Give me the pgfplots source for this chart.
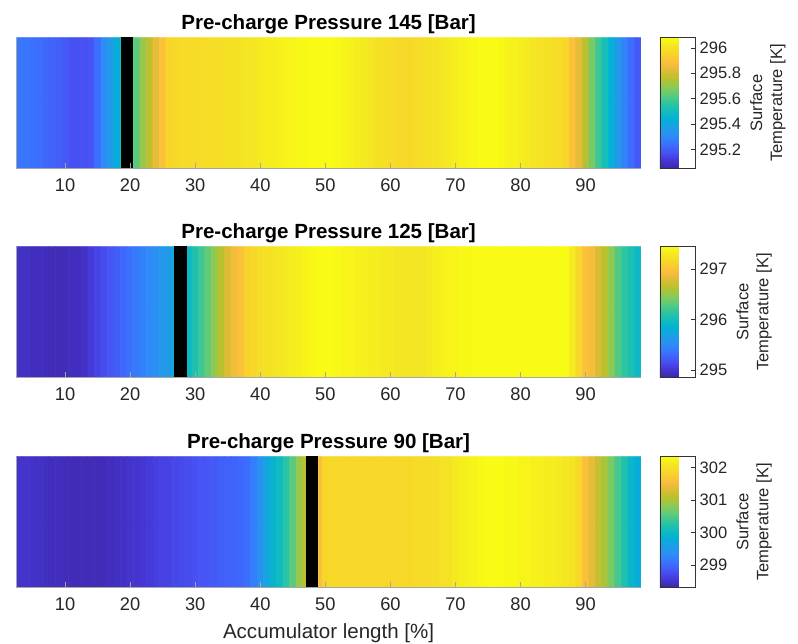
\documentclass[border=0pt]{standalone}
\usepackage{fontspec}
\setmainfont{Liberation Sans}
\usepackage{pgfplots}
\pgfplotsset{compat=1.18}
\usepackage{pgfplotstable}
\usepgfplotslibrary{patchplots}

\pgfplotstableread{
x p1 p2 p3
3 295.256 294.963 298.521
4 295.256 294.963 298.521
5 295.246 294.937 298.500
6 295.235 294.937 298.480
7 295.225 294.937 298.460
8 295.215 294.912 298.440
9 295.205 294.912 298.440
10 295.194 294.912 298.420
11 295.174 294.937 298.400
12 295.174 294.937 298.400
13 295.174 294.963 298.400
14 295.184 295.041 298.400
15 295.235 295.092 298.400
16 295.308 295.144 298.400
17 295.359 295.195 298.440
18 295.431 295.247 298.460
19 295.514 295.299 298.480
20 295.586 295.350 298.521
21 295.627 295.402 298.541
22 295.709 295.453 298.561
23 295.771 295.505 298.601
24 295.843 295.557 298.641
25 295.895 295.608 298.661
26 295.956 295.660 298.681
27 295.967 295.763 298.721
28 295.977 295.866 298.741
29 295.977 295.944 298.761
30 295.977 296.073 298.801
31 295.977 296.202 298.841
32 295.987 296.331 298.861
33 295.987 296.485 298.881
34 295.987 296.640 298.922
35 295.998 296.769 298.942
36 295.998 296.898 298.962
37 296.008 296.976 299.002
38 296.018 297.105 299.042
39 296.018 297.156 299.202
40 296.029 297.208 299.403
41 296.039 297.234 299.683
42 296.039 297.259 299.924
43 296.049 297.285 300.044
44 296.059 297.311 300.285
45 296.059 297.337 300.566
46 296.070 297.363 300.886
47 296.070 297.388 301.087
48 296.080 297.414 301.368
49 296.080 297.440 301.608
50 296.080 297.440 301.849
51 296.080 297.440 301.889
52 296.070 297.414 301.889
53 296.059 297.388 301.889
54 296.049 297.388 301.889
55 296.039 297.363 301.889
56 296.029 297.363 301.889
57 296.018 297.337 301.889
58 296.008 297.337 301.889
59 295.998 297.311 301.889
60 295.987 297.311 301.889
61 295.977 297.285 301.889
62 295.967 297.285 301.889
63 295.967 297.285 301.889
64 295.977 297.285 301.929
65 295.987 297.285 301.929
66 295.998 297.311 301.929
67 296.008 297.337 301.969
68 296.018 297.363 302.009
69 296.029 297.388 302.049
70 296.039 297.388 302.130
71 296.049 297.414 302.170
72 296.059 297.414 302.210
73 296.070 297.440 302.250
74 296.080 297.440 302.290
75 296.080 297.440 302.330
76 296.080 297.440 302.330
77 296.070 297.440 302.330
78 296.059 297.440 302.290
79 296.049 297.440 302.290
80 296.039 297.440 302.250
81 296.029 297.440 302.250
82 296.018 297.440 302.210
83 296.008 297.440 302.210
84 295.998 297.440 302.170
85 295.987 297.440 302.170
86 295.977 297.440 302.130
87 295.967 297.440 302.089
88 295.895 297.311 302.049
89 295.843 297.156 301.889
90 295.761 296.976 301.608
91 295.668 296.924 301.408
92 295.586 296.769 301.167
93 295.514 296.640 300.967
94 295.441 296.485 300.726
95 295.359 296.279 300.445
96 295.287 296.150 300.205
97 295.235 296.047 299.964
98 295.194 295.944 299.804
}\dataA
\pgfplotstablevertcat{\dataB}{\dataA}
\pgfplotstablevertcat{\dataB}{\dataA}

\pgfplotsset{
  colormap={parula}{
    rgb=(0.2422,0.1504,0.6603)
    rgb=(0.2706,0.2147,0.8364)
    rgb=(0.2809,0.3228,0.9579)
    rgb=(0.2290,0.4420,0.9980)
    rgb=(0.1802,0.5445,0.9720)
    rgb=(0.1160,0.6180,0.9000)
    rgb=(0.0150,0.6850,0.8420)
    rgb=(0.0600,0.7400,0.7400)
    rgb=(0.1800,0.7740,0.6300)
    rgb=(0.3600,0.7950,0.4900)
    rgb=(0.5500,0.7900,0.3300)
    rgb=(0.7200,0.7600,0.1800)
    rgb=(0.8700,0.7350,0.2000)
    rgb=(0.9850,0.7440,0.2400)
    rgb=(0.9700,0.8300,0.1650)
    rgb=(0.9580,0.9000,0.1350)
    rgb=(0.9769,0.9839,0.0805)
  },
  /pgf/number format/assume math mode=true,
  strip/.style={
    scale only axis, width=468.5pt, height=98pt,
    anchor=north west,
    xmin=2.5, xmax=98.5, ymin=-0.5, ymax=1.5,
    xtick={10,20,...,90}, ytick=\empty,
    axis on top, axis x line*=bottom, axis y line*=left,
    axis line style={draw=gray!70, line width=0.6pt},
    x tick style={draw=gray!70},
    tick align=inside, major tick length=4pt,
    xticklabel style={font=\fontsize{13.7}{16}\selectfont, text=black!85, yshift=-4.5pt},
    title style={font=\bfseries\fontsize{15.4}{18}\selectfont, yshift=-6.5pt},
    colormap name=parula,
    colorbar right,
  },
  cbar/.style={
    at={(parent axis.north east)}, anchor=north west, xshift=5.7pt,
    width=26.3pt,
    axis line style={draw=black!80},
    tick align=inside, ytick pos=right, major tick length=3pt,
    ytick style={draw=black!80},
    scaled y ticks=false,
    yticklabel style={font=\fontsize{12.4}{14}\selectfont, text=black!85,
      /pgf/number format/fixed, /pgf/number format/precision=1},
    ylabel={Surface\\Temperature [K]},
    ylabel style={align=center, font=\fontsize{12.4}{15}\selectfont, text=black!85},
  },
}

\begin{document}
\begin{tikzpicture}
\useasboundingbox (0,0) rectangle (598.5pt,-482.25pt);

\begin{axis}[strip, at={(12.2pt,-28.3pt)},
  title={Pre-charge Pressure 145 [Bar]},
  point meta min=295.05, point meta max=296.08,
  colorbar style={cbar, ytick={295.2,295.4,295.6,295.8,296}}]
\addplot[matrix plot*, mesh/cols=96, point meta=explicit]
  table[x=x, y expr={\coordindex>95}, meta=p1] {\dataB};
\addplot[fill=black, draw=black] coordinates {(18.6,-0.5) (18.6,1.5) (20.4,1.5) (20.4,-0.5)} --cycle;
\end{axis}

\begin{axis}[strip, at={(12.2pt,-184.9pt)},
  title={Pre-charge Pressure 125 [Bar]},
  point meta min=294.86, point meta max=297.44,
  colorbar style={cbar, ytick={295,296,297}}]
\addplot[matrix plot*, mesh/cols=96, point meta=explicit]
  table[x=x, y expr={\coordindex>95}, meta=p2] {\dataB};
\addplot[fill=black, draw=black] coordinates {(26.8,-0.5) (26.8,1.5) (28.6,1.5) (28.6,-0.5)} --cycle;
\end{axis}

\begin{axis}[strip, at={(12.2pt,-342.5pt)},
  title={Pre-charge Pressure 90 [Bar]},
  xlabel={Accumulator length [\%]},
  xlabel style={font=\fontsize{15.4}{18}\selectfont, text=black!85, yshift=-2.5pt},
  point meta min=298.32, point meta max=302.33,
  colorbar style={cbar, ytick={299,300,301,302}}]
\addplot[matrix plot*, mesh/cols=96, point meta=explicit]
  table[x=x, y expr={\coordindex>95}, meta=p3] {\dataB};
\addplot[fill=black, draw=black] coordinates {(47.1,-0.5) (47.1,1.5) (48.8,1.5) (48.8,-0.5)} --cycle;
\end{axis}
\end{tikzpicture}
\end{document}
